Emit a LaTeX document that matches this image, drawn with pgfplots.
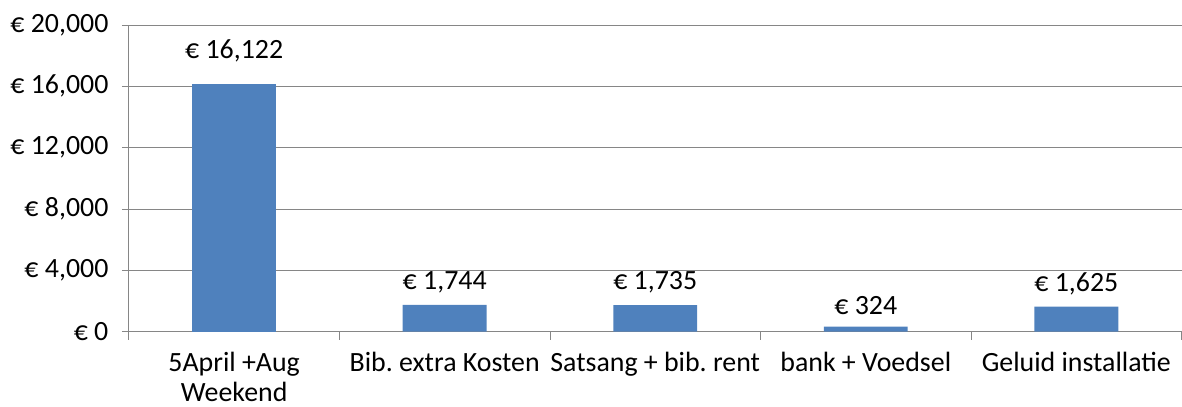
\documentclass[border=0pt]{standalone}
\usepackage{pgfplots}
\pgfplotsset{compat=1.18}
\usepackage{fontspec}
\setmainfont{Carlito}
\frenchspacing
\definecolor{barblue}{RGB}{79,129,189}
\definecolor{gridgray}{RGB}{134,134,134}
\begin{document}
\begin{tikzpicture}
\begin{axis}[
  name=ax,
  scale only axis,
  width=1054bp, height=307bp,
  xmin=-0.5, xmax=4.5,
  ymin=0, ymax=20000,
  axis x line*=bottom, axis y line*=left,
  axis line style={gridgray, line width=0.8bp, -},
  ybar, bar width=84bp, bar shift=0pt,
  xtick={0,1,2,3,4},
  xticklabels={{5April +Aug\\Weekend},{Bib. extra Kosten},{Satsang + bib. rent},{bank + Voedsel},{Geluid installatie}},
  x tick label style={align=center, font=\fontsize{28}{30}\selectfont, yshift=-10bp},
  major x tick style={draw=none},
  minor xtick={-0.5,0.5,1.5,2.5,3.5,4.5},
  minor x tick style={gridgray, line width=0.8bp},
  minor tick length=8bp,
  ytick={0,4000,8000,12000,16000,20000},
  major tick length=7bp,
  tick align=outside,
  y tick style={gridgray, line width=0.8bp},
  ymajorgrids,
  grid style={gridgray, line width=0.8bp},
  /pgf/number format/assume math mode=true,
  /pgf/number format/1000 sep={,},
  yticklabel={€ \pgfmathprintnumber{\tick}},
  y tick label style={font=\fontsize{28}{30}\selectfont, xshift=-10bp},
  scaled y ticks=false,
  nodes near coords={€ \pgfmathprintnumber{\pgfplotspointmeta}},
  nodes near coords style={font=\fontsize{28}{30}\selectfont, yshift=8bp},
  every node near coord/.append style={/pgf/number format/1000 sep={,}},
]
\addplot[fill=barblue, draw=none] coordinates {(1,1744) (2,1735) (3,324) (4,1625)};
\addplot[fill=barblue, draw=none, nodes near coords style={yshift=11bp}] coordinates {(0,16122)};
\end{axis}
\path ([xshift=-129bp,yshift=-75bp]ax.south west) rectangle ([xshift=-1bp,yshift=25bp]ax.north east);
\end{tikzpicture}
\end{document}
